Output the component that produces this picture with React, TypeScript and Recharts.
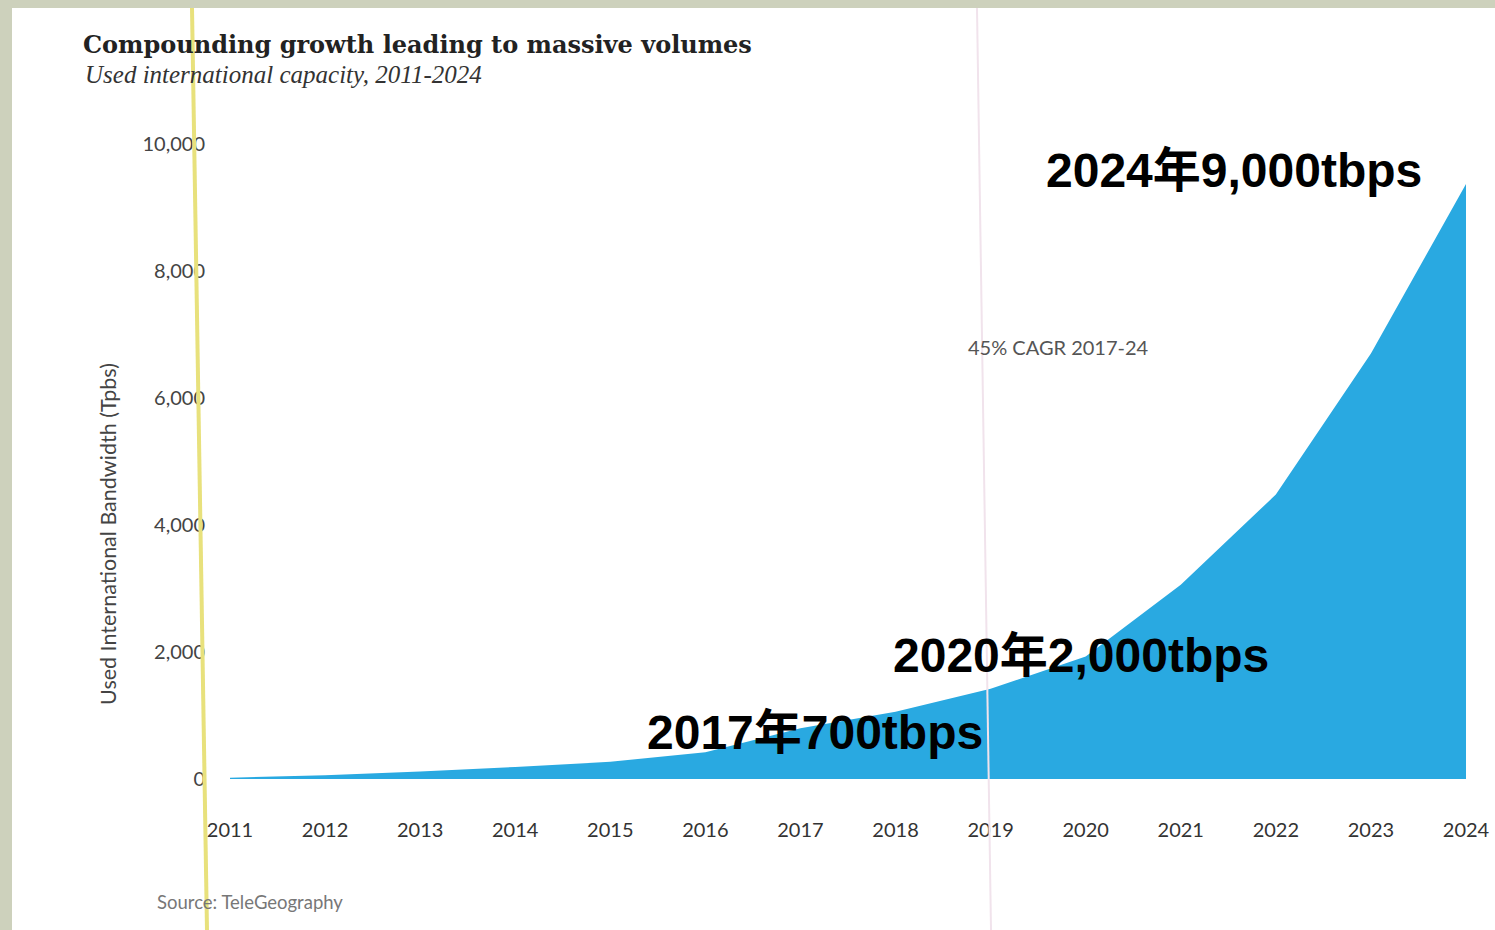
import React from "react";
import { Area, AreaChart, XAxis, YAxis } from "recharts";

// used international bandwidth, Tbps
const years = ["2011", "2012", "2013", "2014", "2015", "2016", "2017", "2018", "2019", "2020", "2021", "2022", "2023", "2024"];
const bandwidth = [20, 60, 120, 190, 270, 420, 800, 1060, 1420, 1930, 3060, 4480, 6700, 9370];
const yTicks = [0, 2000, 4000, 6000, 8000, 10000];

const title = "Compounding growth leading to massive volumes";
const subtitle = "Used international capacity, 2011-2024";
const yLabel = "Used International Bandwidth (Tpbs)";
const cagrNote = "45% CAGR 2017-24";
const source = "Source: TeleGeography";
const callouts = ["2024年9,000tbps", "2020年2,000tbps", "2017年700tbps"];

const data = years.map((year, i) => ({ year, value: bandwidth[i] }));

const W = 1495;
const H = 930;
const sans = "Lato, 'Open Sans', sans-serif";
const bold = "'Liberation Sans', 'Noto Sans CJK JP', sans-serif";

function Callout({ text, left, top }: { text: string; left: number; top: number }) {
  return (
    <div
      style={{
        position: "absolute",
        left,
        top,
        fontFamily: bold,
        fontWeight: 700,
        fontSize: 48,
        lineHeight: "48px",
        color: "#000",
        whiteSpace: "nowrap",
      }}
    >
      {text}
    </div>
  );
}

export default function App() {
  return (
    <div style={{ position: "relative", width: W, height: H, background: "#cdd1bc", overflow: "hidden" }}>
      <style>{`body{margin:0}`}</style>
      <div style={{ position: "absolute", left: 12, top: 8, right: 0, bottom: 0, background: "#fff" }} />

      <div style={{ position: "absolute", left: 0, top: 0 }}>
        <AreaChart width={W} height={H} data={data} margin={{ top: 144, right: 29, bottom: 121, left: 170 }}>
          <XAxis
            dataKey="year"
            height={30}
            axisLine={false}
            tickLine={false}
            tickSize={0}
            tickMargin={44}
            interval={0}
            tick={{ fill: "#333", fontSize: 20, fontFamily: sans }}
          />
          <YAxis
            width={60}
            domain={[0, 10000]}
            ticks={yTicks}
            axisLine={false}
            tickLine={false}
            tickSize={0}
            tickMargin={25}
            tickFormatter={(v) => Number(v).toLocaleString("en-US")}
            tick={{ fill: "#444", fontSize: 20, fontFamily: sans }}
          />
          <Area
            type="linear"
            dataKey="value"
            stroke="none"
            fill="#29a9e1"
            fillOpacity={1}
            isAnimationActive={false}
          />
        </AreaChart>
      </div>

      {/* scan artifacts: yellow and faint pink streaks */}
      <svg width={W} height={H} style={{ position: "absolute", left: 0, top: 0, pointerEvents: "none" }}>
        <line x1={192} y1={8} x2={207} y2={930} stroke="#e8e17c" strokeWidth={4} />
        <line x1={977} y1={8} x2={991} y2={930} stroke="#f1e3ec" strokeWidth={2} />
      </svg>

      <div
        style={{
          position: "absolute",
          left: 83,
          top: 30,
          fontFamily: "'DejaVu Serif', serif",
          fontWeight: 700,
          fontSize: 24,
          lineHeight: "30px",
          color: "#222",
          whiteSpace: "nowrap",
        }}
      >
        {title}
      </div>
      <div
        style={{
          position: "absolute",
          left: 85,
          top: 60,
          fontFamily: "'Liberation Serif', serif",
          fontStyle: "italic",
          fontSize: 25,
          lineHeight: "30px",
          color: "#333",
          whiteSpace: "nowrap",
        }}
      >
        {subtitle}
      </div>

      <div
        style={{
          position: "absolute",
          left: 108,
          top: 534,
          transform: "translate(-50%, -50%) rotate(-90deg)",
          fontFamily: sans,
          fontSize: 21.5,
          color: "#444",
          whiteSpace: "nowrap",
        }}
      >
        {yLabel}
      </div>

      <div
        style={{
          position: "absolute",
          left: 968,
          top: 335,
          fontFamily: sans,
          fontSize: 20,
          lineHeight: "24px",
          color: "#555",
          whiteSpace: "nowrap",
        }}
      >
        {cagrNote}
      </div>

      <div
        style={{
          position: "absolute",
          left: 157,
          top: 891,
          fontFamily: sans,
          fontSize: 18.5,
          lineHeight: "22px",
          color: "#777",
          whiteSpace: "nowrap",
        }}
      >
        {source}
      </div>

      <Callout text={callouts[0]} left={1046} top={147} />
      <Callout text={callouts[1]} left={893} top={632} />
      <Callout text={callouts[2]} left={647} top={709} />
    </div>
  );
}
